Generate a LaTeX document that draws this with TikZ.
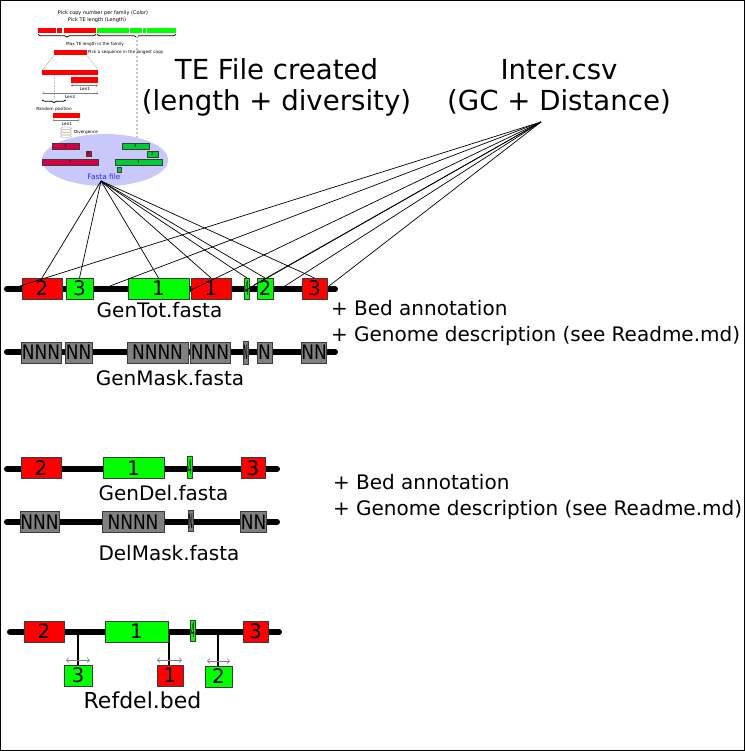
\documentclass[tikz,border=0pt]{standalone}
\usepackage{fontspec}
\setmainfont{DejaVu Sans}
\usetikzlibrary{decorations.pathreplacing,arrows.meta}
\definecolor{tered}{RGB}{255,0,0}
\definecolor{tegreen}{RGB}{0,255,0}
\definecolor{maskgray}{RGB}{128,128,128}
\definecolor{edgegray}{RGB}{60,60,60}
\definecolor{crim}{RGB}{212,0,64}
\definecolor{dgreen}{RGB}{0,204,51}
\definecolor{ellfill}{RGB}{200,200,250}
\definecolor{fastablue}{RGB}{40,40,255}
\begin{document}
\begin{tikzpicture}[x=1pt,y=-1pt,
  every node/.style={inner sep=0pt, outer sep=0pt},
  seqline/.style={line width=6pt, line cap=round},
  blk/.style={draw=edgegray, line width=0.7pt, minimum height=21pt, font=\fontsize{20}{20}\selectfont, anchor=center},
  redblk/.style={blk, fill=tered},
  greenblk/.style={blk, fill=tegreen},
  maskblk/.style={blk, fill=maskgray},
  lbl/.style={font=\fontsize{20}{20}\selectfont, anchor=base},
  side/.style={font=\fontsize{20}{20}\selectfont, anchor=base west},
  title/.style={font=\fontsize{27.6}{30}\selectfont, anchor=base},
  smalltxt/.style={font=\fontsize{5}{6}\selectfont},
  tinytxt/.style={font=\fontsize{4.2}{5}\selectfont},
  fan/.style={line width=0.7pt},
  minibar/.style={draw=edgegray, line width=0.2pt, font=\fontsize{4}{4}\selectfont},
  dimarrow/.style={gray, line width=0.35pt, {Straight Barb[length=1.5pt,width=3pt]}-{Straight Barb[length=1.5pt,width=3pt]}},
  smallarrow/.style={gray, line width=0.6pt, {Straight Barb[length=2.5pt,width=5pt]}-{Straight Barb[length=2.5pt,width=5pt]}},
]
\useasboundingbox (0,0) rectangle (745,751);
\fill[white] (0,0) rectangle (745,751);
\draw[line width=1pt] (0.5,0.5) rectangle (744.5,750.5);

% ---------- top-left schematic ----------
\node[smalltxt] (t1) at (103,13) {Pick copy number per family (Color)};
\node[smalltxt] (t2) at (97,20) {Pick TE length (Length)};
\foreach \a/\b in {38/56,57.3/62.3,63.7/95.7}
  \fill[tered] (\a,28) rectangle (\b,33.3);
\foreach \a/\b in {96.7/129,130/141.7,142.7/145.7,147.3/175.7}
  \fill[tegreen] (\a,28) rectangle (\b,33.3);
\draw[decorate, decoration={brace, mirror, amplitude=2.5pt}, line width=0.8pt] (38,34.5) -- (96,34.5);
\draw[decorate, decoration={brace, mirror, amplitude=2.5pt}, line width=0.8pt] (97,34.5) -- (176,34.5);
\draw[gray!45, dash pattern=on 2pt off 2pt, line width=1.6pt] (137,36) -- (137,148);
\node[tinytxt] (t3) at (95,44) {Max TE length in the family};
\fill[tered] (54.3,50) rectangle (86.7,55);
\node[tinytxt, anchor=west] (t4) at (88,52) {Pick a sequence in the longest copy};
\draw[gray!60, line width=0.4pt] (54.3,55) -- (42.3,70) (86.7,55) -- (98.3,70);
\fill[tered] (42.3,70) rectangle (98.3,75.3);
\fill[tered] (71,77.3) rectangle (97.7,82.7);
\draw[gray!50, densely dotted, line width=0.6pt] (54,75.3) -- (54,99);
\draw[dimarrow] (71,85.5) -- (97.7,85.5);
\node[tinytxt] (l1) at (85,89) {Len1};
\draw[dimarrow] (42.3,93) -- (98.3,93);
\node[tinytxt] (l3) at (70,97) {Len3};
\draw[decorate, decoration={brace, mirror, amplitude=2.5pt}, line width=0.7pt] (42,100) -- (66,100);
\node[tinytxt] (rp) at (54,109) {Random position};
\fill[tered] (53,113) rectangle (79.5,118);
\draw[dimarrow] (53,120) -- (79.5,120);
\node[tinytxt] (l1b) at (67,124) {Len1};
\foreach \k in {0,1,2,3}
  \draw[gray!60, line width=0.4pt] (66,128.5+2.6*\k) ellipse [x radius=5.5, y radius=1.6];
\node[tinytxt, anchor=west] (dv) at (74,132.5) {Divergence};

\fill[ellfill] (105,160) ellipse [x radius=63, y radius=26];
\node[minibar, fill=crim, minimum width=27pt, minimum height=6pt] (c1) at (65.5,146) {1};
\node[minibar, fill=crim, minimum width=5pt, minimum height=5pt] (c2) at (88.5,153.5) {2};
\node[minibar, fill=crim, minimum width=56pt, minimum height=6pt] (c3) at (70,162) {3};
\node[minibar, fill=dgreen, minimum width=27pt, minimum height=6pt] (d4) at (135.5,146) {4};
\node[minibar, fill=dgreen, minimum width=11pt, minimum height=6pt] (d2) at (152.5,154) {2};
\node[minibar, fill=dgreen, minimum width=47pt, minimum height=6pt] (d1) at (138.5,162) {1};
\node[minibar, fill=dgreen, minimum width=4pt, minimum height=5pt] (d3) at (119,169.5) {};
\node[font=\fontsize{7.4}{8}\selectfont, text=fastablue] (fasta) at (104,176.5) {Fasta file};
\coordinate (fa) at (101,181);

% ---------- titles ----------
\node[title] (te1) at (276.5,80) {TE File created};
\node[title] (te2) at (276.5,111) {(length + diversity)};
\node[title] (in1) at (559,80) {Inter.csv};
\node[title] (in2) at (559,111) {(GC + Distance)};
\coordinate (ia) at (541,122);

% ---------- GenTot ----------
\coordinate (gtL) at (7,289); \coordinate (gtR) at (335,289);
\draw[seqline] (gtL) -- (gtR);
\node[redblk, minimum width=40pt] (a2) at (42,288.5) {2};
\node[greenblk, minimum width=27pt] (b3) at (79.5,288.5) {3};
\node[greenblk, minimum width=61pt] (b1) at (158.5,288.5) {1};
\node[redblk, minimum width=40pt] (a1) at (211,288.5) {1};
\node[greenblk, minimum width=4.5pt] (b4) at (247,288.5) {\scalebox{0.28}[1]{4}};
\node[greenblk, minimum width=16pt] (b2) at (265,288.5) {2};
\node[redblk, minimum width=25pt] (a3) at (314.5,288.5) {3};
\node[lbl] (gtlab) at (159.5,317) {GenTot.fasta};

% fan lines from Fasta file
\foreach \n in {a2,b3,b1,a1,b4,b2,a3}
  \draw[fan] (fa) -- (\n.north);
% fan lines from Inter.csv
\coordinate (i1) at (20,286);
\coordinate (i2) at (110,286);
\coordinate (i3) at (191,290);
\coordinate (i4) at (246,290);
\coordinate (i5) at (254,285);
\coordinate (i6) at (285,286);
\coordinate (i7) at (329,286);
\foreach \n in {i1,i2,i3,i4,i5,i6,i7}
  \draw[fan] (ia) -- (\n);

% ---------- GenMask ----------
\coordinate (gmL) at (7,352); \coordinate (gmR) at (335,352);
\draw[seqline] (gmL) -- (gmR);
\node[maskblk, minimum width=40pt] (m1) at (41,352.5) {\scalebox{0.85}[1]{NNN}};
\node[maskblk, minimum width=27pt] (m2) at (78.5,352.5) {\scalebox{0.85}[1]{NN}};
\node[maskblk, minimum width=61pt] (m3) at (157.5,352.5) {\scalebox{0.85}[1]{NNNN}};
\node[maskblk, minimum width=40pt] (m4) at (210,352.5) {\scalebox{0.85}[1]{NNN}};
\node[maskblk, minimum width=5pt, minimum height=23pt] (m5) at (245.5,352.5) {\scalebox{0.3}[1]{N}};
\node[maskblk, minimum width=15pt] (m6) at (264.5,352.5) {\scalebox{0.85}[1]{N}};
\node[maskblk, minimum width=24pt] (m7) at (314,352.5) {\scalebox{0.85}[1]{NN}};
\node[lbl] (gmlab) at (170,385) {GenMask.fasta};

\node[side] (s1) at (331,315) {+ Bed annotation};
\node[side] (s2) at (331,341) {+ Genome description (see Readme.md)};

% ---------- GenDel ----------
\coordinate (gdL) at (7,469); \coordinate (gdR) at (277,469);
\draw[seqline] (gdL) -- (gdR);
\node[redblk, minimum width=40pt] (e2) at (41,468) {2};
\node[greenblk, minimum width=61pt] (f1) at (133.5,468) {1};
\node[greenblk, minimum width=4.5pt, minimum height=22pt] (f4) at (190,467) {\scalebox{0.28}[1]{4}};
\node[redblk, minimum width=24pt] (e3) at (253,468) {3};
\node[lbl] (gdlab) at (163.5,500) {GenDel.fasta};

% ---------- DelMask ----------
\coordinate (dmL) at (7,522); \coordinate (dmR) at (277,522);
\draw[seqline] (dmL) -- (dmR);
\node[maskblk, minimum width=39pt] (n1) at (39.5,522) {\scalebox{0.85}[1]{NNN}};
\node[maskblk, minimum width=62pt] (n2) at (133,522) {\scalebox{0.85}[1]{NNNN}};
\node[maskblk, minimum width=5pt] (n3) at (190.5,521) {\scalebox{0.3}[1]{N}};
\node[maskblk, minimum width=25pt] (n4) at (253.5,522) {\scalebox{0.85}[1]{NN}};
\node[lbl] (dmlab) at (169,560) {DelMask.fasta};

\node[side] (s3) at (333,489) {+ Bed annotation};
\node[side] (s4) at (333,515) {+ Genome description (see Readme.md)};

% ---------- Refdel ----------
\coordinate (rdL) at (10,632); \coordinate (rdR) at (279,632);
\draw[seqline] (rdL) -- (rdR);
\coordinate (st1) at (78,632);
\coordinate (st2) at (169,632);
\coordinate (st3) at (218,632);
\node[greenblk, minimum width=28pt] (r3) at (78,675.5) {3};
\node[redblk, minimum width=26pt] (r1) at (170,675.5) {1};
\node[greenblk, minimum width=27pt] (r2) at (218.5,676.5) {2};
\draw[line width=1.6pt] (st1) -- (st1 |- r3.north);
\draw[line width=1.6pt] (st2) -- (st2 |- r1.north);
\draw[line width=1.6pt] (st3) -- (st3 |- r2.north);
\node[redblk, minimum width=40pt] (h2) at (44,631.5) {2};
\node[greenblk, minimum width=63pt] (k1) at (136.5,631.5) {1};
\node[greenblk, minimum width=4.5pt] (k4) at (193,630.5) {\scalebox{0.28}[1]{4}};
\node[redblk, minimum width=25pt] (h3) at (255.5,631.5) {3};
\coordinate (ar1a) at (66,660); \coordinate (ar1b) at (90,660);
\coordinate (ar2a) at (157,660); \coordinate (ar2b) at (182,660);
\coordinate (ar3a) at (207,661); \coordinate (ar3b) at (230,661);
\draw[smallarrow] (ar1a) -- (ar1b);
\draw[smallarrow] (ar2a) -- (ar2b);
\draw[smallarrow] (ar3a) -- (ar3b);
\node[font=\fontsize{22}{22}\selectfont, anchor=base] (rdlab) at (142.5,708) {Refdel.bed};
\end{tikzpicture}
\end{document}
